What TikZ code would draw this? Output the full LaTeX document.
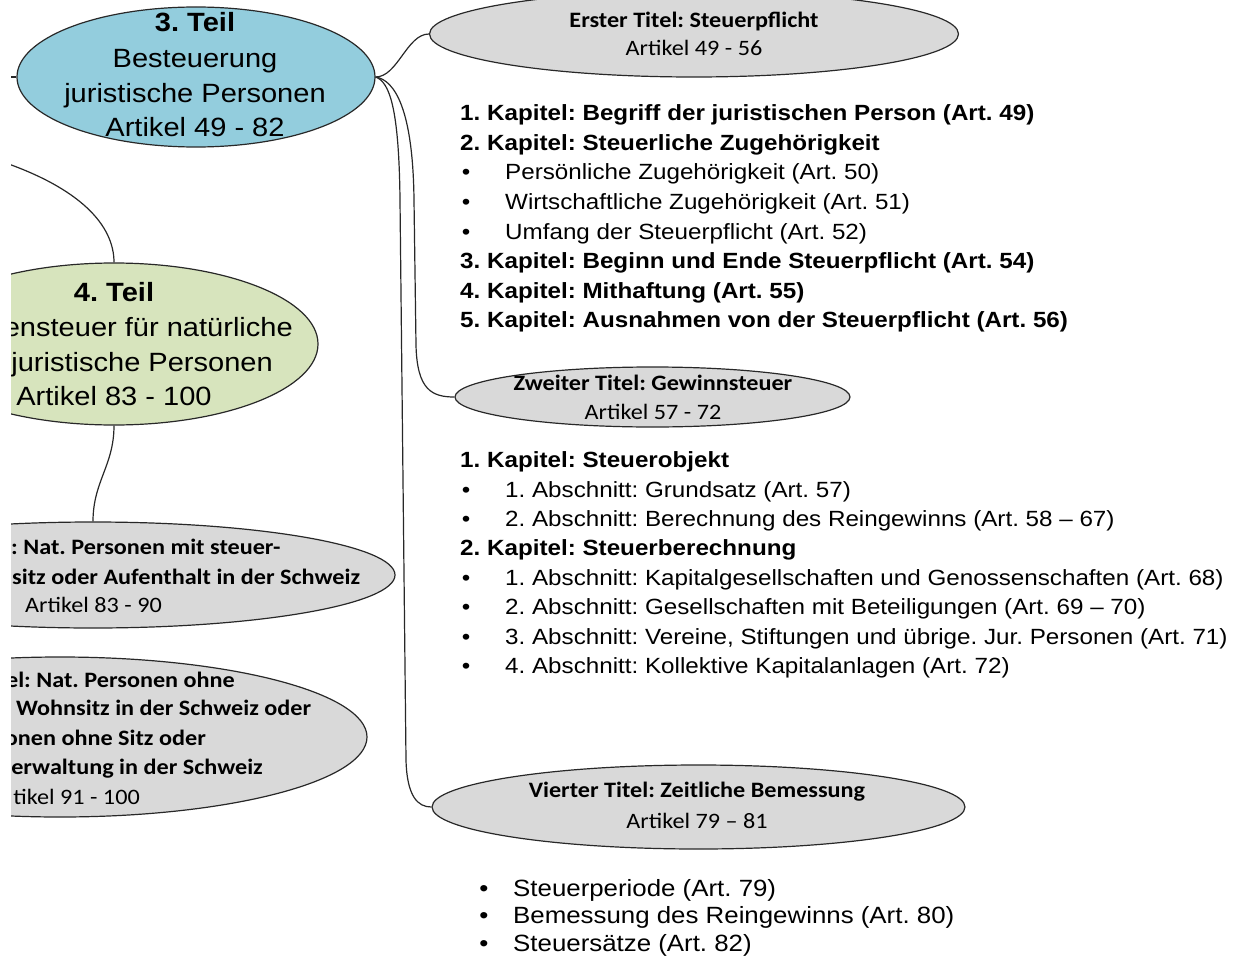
\documentclass[tikz,border=0pt]{standalone}
\usepackage{fontspec}
\setmainfont{Liberation Sans}[FakeStretch=1.1]
\newfontfamily\carlitofont{Carlito}[FakeStretch=1.1]
\usetikzlibrary{shapes.geometric}
\definecolor{bluefill}{RGB}{147,205,221}
\definecolor{greenfill}{RGB}{215,228,189}
\definecolor{grayfill}{RGB}{217,217,217}
\definecolor{linec}{RGB}{40,40,40}
\newcommand{\bigtxt}{\frenchspacing\fontsize{26.4}{32}\selectfont}
\newcommand{\caltxt}{\frenchspacing\carlitofont\fontsize{22}{28}\selectfont}
\newcommand{\listtxt}{\frenchspacing\fontsize{22}{28}\selectfont}
\newcommand{\listtxtc}{\frenchspacing\fontsize{23.5}{28}\selectfont}
\begin{document}
\frenchspacing
\begin{tikzpicture}[x=1pt,y=-1pt,
  ell/.style={ellipse, draw=linec, line width=1.2pt, inner sep=0pt},
  conn/.style={draw=linec, line width=1.2pt},
  lbl/.style={inner sep=0pt, text depth=0pt},
  bigl/.style={lbl, text height=18.9pt, font=\bigtxt},
  bigb/.style={lbl, text height=18.9pt, font=\bigtxt\bfseries},
  call/.style={lbl, text height=14.2pt, font=\caltxt},
  calb/.style={lbl, text height=14.2pt, font=\caltxt\bfseries},
  kap/.style={lbl, text height=15.8pt, anchor=west, font=\listtxt\bfseries},
  itm/.style={lbl, text height=15.8pt, anchor=west, font=\listtxt},
  bul/.style={lbl, text height=15.8pt, font=\listtxt},
  itmc/.style={lbl, text height=16.8pt, anchor=west, font=\listtxtc},
  bulc/.style={lbl, text height=16.8pt, font=\listtxtc}]
\useasboundingbox (0,0) rectangle (1236,960);
\begin{scope}
\clip (11,0) rectangle (1236,960);
% ellipses
\node[ell, fill=bluefill, minimum width=358pt, minimum height=140pt] (teil3) at (196,77) {};
\node[ell, fill=greenfill, minimum width=408pt, minimum height=162pt] (teil4) at (114,344) {};
\node[ell, fill=grayfill, minimum width=604pt, minimum height=106pt] (g1) at (93,575) {};
\node[ell, fill=grayfill, minimum width=614pt, minimum height=160pt] (g2) at (60,737) {};
\node[ell, fill=grayfill, minimum width=529pt, minimum height=86pt] (erster) at (694,34) {};
\node[ell, fill=grayfill, minimum width=395pt, minimum height=60pt] (zweiter) at (652.5,397) {};
\node[ell, fill=grayfill, minimum width=533pt, minimum height=84pt] (vierter) at (698.5,807) {};
% connectors
\coordinate (stub) at (5,77);
\coordinate (cin) at (0,161);
\draw[conn] (stub) -- (teil3.west);
\draw[conn] (cin) .. controls (80,188) and (114,225) .. (teil4.north);
\draw[conn] (teil4.south) .. controls +(0,40) and +(0,-40) .. (g1.north);
\draw[conn] (teil3.east) .. controls +(22,0) and +(-22,0) .. (erster.west);
\draw[conn] (teil3.east) .. controls (395,80) and (413,110) .. (414,200) -- (416,345) .. controls (417,390) and (432,397) .. (zweiter.west);
\draw[conn] (teil3.east) .. controls (390,82) and (399,110) .. (400,200) -- (406,760) .. controls (407,797) and (418,807) .. (vierter.west);
% blue text
\node[bigb] (t3a) at (195,22) {3. Teil};
\node[bigl] (t3b) at (195,58) {Besteuerung};
\node[bigl] (t3c) at (195,93) {juristische Personen};
\node[bigl] (t3d) at (195,127) {Artikel 49 - 82};
% green text
\node[bigb] (t4a) at (114,292) {4. Teil};
\node[bigl, anchor=east] (t4b) at (293,327) {ensteuer für natürliche};
\node[bigl, anchor=east] (t4c) at (273,362) {juristische Personen};
\node[bigl] (t4d) at (114,396) {Artikel 83 - 100};
% left gray 1
\node[calb, anchor=west] (g1a) at (11,547) {: Nat. Personen mit steuer-};
\node[calb, anchor=west] (g1b) at (12,577) {sitz oder Aufenthalt in der Schweiz};
\node[call, anchor=west] (g1c) at (25,605) {Artikel 83 - 90};
% left gray 2
\node[calb, anchor=east] (g2a) at (235,680) {el: Nat. Personen ohne};
\node[calb, anchor=west] (g2b) at (16,708) {Wohnsitz in der Schweiz oder};
\node[calb, anchor=east] (g2c) at (206,738) {onen ohne Sitz oder};
\node[calb, anchor=east] (g2d) at (263,767) {erwaltung in der Schweiz};
\node[call, anchor=east] (g2e) at (140,797) {tikel 91 - 100};
% right gray titles
\node[calb] (e1) at (694,20) {Erster Titel: Steuerpflicht};
\node[call] (e2) at (694,48) {Artikel 49 - 56};
\node[calb] (z1) at (653,383) {Zweiter Titel: Gewinnsteuer};
\node[call] (z2) at (653,412) {Artikel 57 - 72};
\node[calb] (v1) at (697,790) {Vierter Titel: Zeitliche Bemessung};
\node[call] (v2) at (697,821) {Artikel 79 – 81};
% list 1
\node[kap] (a1) at (460,113) {1. Kapitel: Begriff der juristischen Person (Art. 49)};
\node[kap] (a2) at (460,142.5) {2. Kapitel: Steuerliche Zugehörigkeit};
\node[bul] (a3b) at (466,172) {•};
\node[itm] (a3) at (505,172) {Persönliche Zugehörigkeit (Art. 50)};
\node[bul] (a4b) at (466,202) {•};
\node[itm] (a4) at (505,202) {Wirtschaftliche Zugehörigkeit (Art. 51)};
\node[bul] (a5b) at (466,231.5) {•};
\node[itm] (a5) at (505,231.5) {Umfang der Steuerpflicht (Art. 52)};
\node[kap] (a6) at (460,261) {3. Kapitel: Beginn und Ende Steuerpflicht (Art. 54)};
\node[kap] (a7) at (460,290.5) {4. Kapitel: Mithaftung (Art. 55)};
\node[kap] (a8) at (460,320) {5. Kapitel: Ausnahmen von der Steuerpflicht (Art. 56)};
% list 2
\node[kap] (b1) at (460,460) {1. Kapitel: Steuerobjekt};
\node[bul] (b2b) at (466,490) {•};
\node[itm] (b2) at (505,490) {1. Abschnitt: Grundsatz (Art. 57)};
\node[bul] (b3b) at (466,519) {•};
\node[itm] (b3) at (505,519) {2. Abschnitt: Berechnung des Reingewinns (Art. 58 – 67)};
\node[kap] (b4) at (460,548) {2. Kapitel: Steuerberechnung};
\node[bul] (b5b) at (466,578) {•};
\node[itm] (b5) at (505,578) {1. Abschnitt: Kapitalgesellschaften und Genossenschaften (Art. 68)};
\node[bul] (b6b) at (466,607) {•};
\node[itm] (b6) at (505,607) {2. Abschnitt: Gesellschaften mit Beteiligungen (Art. 69 – 70)};
\node[bul] (b7b) at (466,637) {•};
\node[itm] (b7) at (505,637) {3. Abschnitt: Vereine, Stiftungen und übrige. Jur. Personen (Art. 71)};
\node[bul] (b8b) at (466,666) {•};
\node[itm] (b8) at (505,666) {4. Abschnitt: Kollektive Kapitalanlagen (Art. 72)};
% list 3
\node[bulc] (c1b) at (484,888) {•};
\node[itmc] (c1) at (513,888) {Steuerperiode (Art. 79)};
\node[bulc] (c2b) at (484,915.5) {•};
\node[itmc] (c2) at (513,915.5) {Bemessung des Reingewinns (Art. 80)};
\node[bulc] (c3b) at (484,943) {•};
\node[itmc] (c3) at (513,943) {Steuersätze (Art. 82)};
\end{scope}
\end{tikzpicture}
\end{document}
